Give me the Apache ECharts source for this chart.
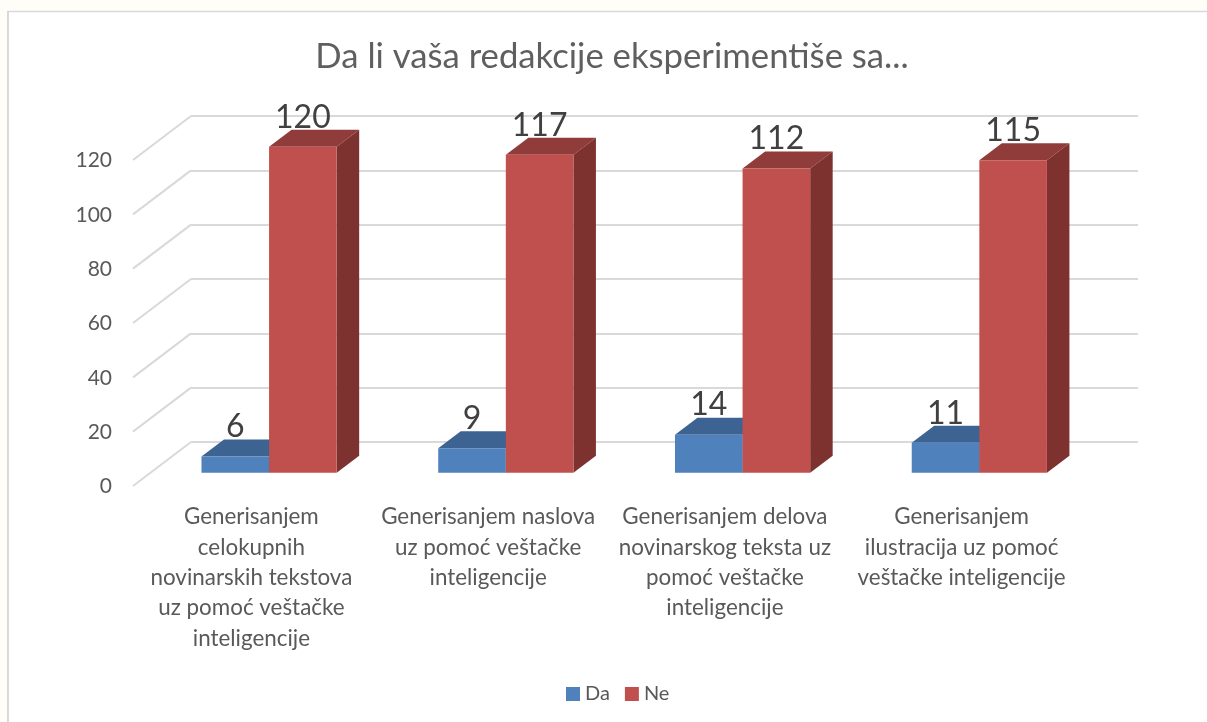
<!DOCTYPE html>
<html><head><meta charset="utf-8">
<style>html,body{margin:0;padding:0;background:#fffdf8}#c{width:1207px;height:722px}</style>
<script src="https://cdn.jsdelivr.net/npm/echarts@6/dist/echarts.min.js"></script>
</head><body><div id="c"></div>
<script>
const titleText = 'Da li vaša redakcije eksperimentiše sa...';
const categories = [
  'Generisanjem\ncelokupnih\nnovinarskih tekstova\nuz pomoć veštačke\ninteligencije',
  'Generisanjem naslova\nuz pomoć veštačke\ninteligencije',
  'Generisanjem delova\nnovinarskog teksta uz\npomoć veštačke\ninteligencije',
  'Generisanjem\nilustracija uz pomoć\nveštačke inteligencije'
];
const daValues = [6, 9, 14, 11];
const neValues = [120, 117, 112, 115];
const yMin = 0, yMax = 120, yStep = 20;
const yTicks = [0, 20, 40, 60, 80, 100, 120];

const FONT = 'Lato';
const WALL = [58, -44];      // floor depth: front edge to back wall
const PLANE = [17.7, -13.3]; // front face of bars relative to front edge
const DEPTH = [22.5, -17];   // bar depth
const BAR = 67.6;

function bar3d(values, side, colors) {
  return function (params, api) {
    const i = api.value(0), v = api.value(1);
    const top = api.coord([i, v]), base = api.coord([i, 0]);
    const x0 = top[0] + PLANE[0] + (side < 0 ? -BAR : 0), x1 = x0 + BAR;
    const yT = top[1] + PLANE[1], yB = base[1] + PLANE[1];
    const dx = DEPTH[0], dy = DEPTH[1];
    const poly = (points, fill) => ({type: 'polygon', shape: {points}, style: {fill}});
    return {type: 'group', children: [
      poly([[x0, yT], [x1, yT], [x1 + dx, yT + dy], [x0 + dx, yT + dy]], colors.top),
      poly([[x1, yT], [x1 + dx, yT + dy], [x1 + dx, yB + dy], [x1, yB]], colors.side),
      poly([[x0, yT], [x1, yT], [x1, yB], [x0, yB]], colors.front),
      {type: 'text', z2: 100, style: {
        text: String(v), x: (x0 + x1) / 2, y: yT + dy + 3.5,
        align: 'center', verticalAlign: 'bottom',
        font: '32px ' + FONT, fill: '#404040'}}
    ]};
  };
}

const chart = echarts.init(document.getElementById('c'), null, {renderer: 'canvas'});
chart.setOption({
  animation: false,
  backgroundColor: '#fffdf8',
  graphic: [
    {type: 'rect', z: -10, shape: {x: 8, y: 12, width: 1199, height: 710}, style: {fill: '#ffffff'}},
    {type: 'line', z: -9, shape: {x1: 7, y1: 11.5, x2: 1207, y2: 11.5}, style: {stroke: '#d9d9d9', lineWidth: 1.5}},
    {type: 'line', z: -9, shape: {x1: 8, y1: 11, x2: 8, y2: 722}, style: {stroke: '#d9d9d9', lineWidth: 2}}
  ],
  title: {text: titleText, left: 607, top: 34, textAlign: 'center',
    textStyle: {fontFamily: FONT, fontSize: 34.7, fontWeight: 'normal', color: '#5f5f5f'}},
  legend: {data: ['Da', 'Ne'], bottom: 13, left: 561, icon: 'rect', itemWidth: 14, itemHeight: 14, itemGap: 15,
    textStyle: {fontFamily: FONT, fontSize: 20, color: '#595959'}},
  grid: [
    {left: 133, top: 160, width: 947, height: 326},
    {left: 191, top: 116, width: 947, height: 326}
  ],
  xAxis: [
    {type: 'category', gridIndex: 0, data: categories,
      axisLine: {show: false}, axisTick: {show: false},
      axisLabel: {interval: 0, margin: 16, lineHeight: 30.3, fontFamily: FONT, fontSize: 22.4, color: '#595959'}},
    {type: 'category', gridIndex: 1, data: categories, show: false}
  ],
  yAxis: [
    {type: 'value', gridIndex: 0, min: yMin, max: yMax, interval: yStep,
      axisLine: {show: false}, axisTick: {show: false}, splitLine: {show: false},
      axisLabel: {margin: 21, verticalAlign: 'top', lineHeight: 1, fontFamily: FONT, fontSize: 21, color: '#595959'}},
    {type: 'value', gridIndex: 1, min: yMin, max: yMax, interval: yStep,
      axisLine: {show: false}, axisTick: {show: false}, axisLabel: {show: false},
      splitLine: {show: true, lineStyle: {color: '#d9d9d9', width: 2}}}
  ],
  series: [
    {type: 'custom', name: 'walls', xAxisIndex: 0, yAxisIndex: 0, silent: true, z: 1,
      data: yTicks.map(t => [0, t]),
      renderItem(params, api) {
        const p = api.coord([0, api.value(1)]);
        const x = params.coordSys.x;
        return {type: 'line', shape: {x1: x, y1: p[1], x2: x + WALL[0], y2: p[1] + WALL[1]},
          style: {stroke: '#d9d9d9', lineWidth: 2}};
      }},
    {type: 'custom', name: 'Da', xAxisIndex: 0, yAxisIndex: 0, z: 3,
      itemStyle: {color: '#4f81bd'},
      data: daValues.map((v, i) => [i, v]),
      encode: {x: 0, y: 1},
      renderItem: bar3d(daValues, -1, {front: '#4f81bd', top: '#3c6392', side: '#355880'})},
    {type: 'custom', name: 'Ne', xAxisIndex: 0, yAxisIndex: 0, z: 4,
      itemStyle: {color: '#c0504d'},
      data: neValues.map((v, i) => [i, v]),
      encode: {x: 0, y: 1},
      renderItem: bar3d(neValues, 1, {front: '#c0504d', top: '#903c3a', side: '#7d322f'})}
  ]
});
</script></body></html>
